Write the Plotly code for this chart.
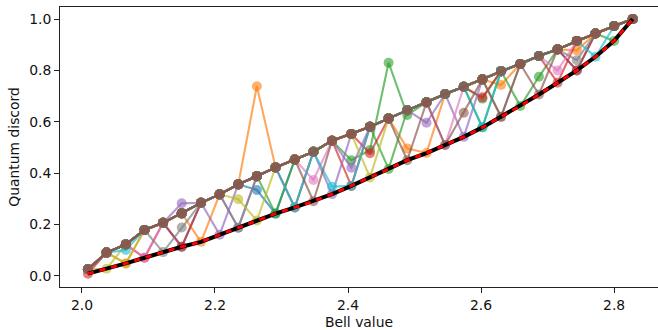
import plotly.graph_objects as go

# ---------------- data ----------------
bell_value = [2.009, 2.037, 2.066, 2.094, 2.122, 2.150, 2.179, 2.207, 2.235, 2.263,
              2.291, 2.320, 2.348, 2.376, 2.405, 2.433, 2.461, 2.489, 2.518, 2.546,
              2.574, 2.602, 2.630, 2.659, 2.687, 2.715, 2.744, 2.772, 2.800, 2.828]

lower_discord = [0.008, 0.027, 0.048, 0.070, 0.092, 0.113, 0.132, 0.160, 0.187, 0.215,
                 0.242, 0.266, 0.290, 0.318, 0.350, 0.383, 0.416, 0.450, 0.478, 0.509,
                 0.541, 0.578, 0.619, 0.661, 0.706, 0.752, 0.800, 0.853, 0.915, 1.000]

upper_discord = [0.025, 0.090, 0.122, 0.178, 0.206, 0.243, 0.284, 0.317, 0.356, 0.388,
                 0.422, 0.453, 0.483, 0.526, 0.552, 0.580, 0.613, 0.645, 0.676, 0.708,
                 0.736, 0.765, 0.797, 0.825, 0.856, 0.882, 0.915, 0.944, 0.973, 1.000]

# each sampled series: colour, indices where it sits on the lower curve,
# and points that lie between / above the two curves
series_colour = ["blue", "blue", "orange", "orange", "orange", "green", "green", "green",
                 "green", "green", "red", "red", "red", "purple", "purple", "purple",
                 "pink", "grey", "grey", "olive", "olive", "cyan", "cyan",
                 "brown", "brown", "brown"]
series_low_idx = [[10], [5, 26], [6], [18], [2, 11], [10], [16], [21], [23, 28], [],
                  [0, 14], [3, 25], [5, 26], [7, 20], [8, 13], [11],
                  [3, 19], [4], [8, 22], [1, 9], [2, 15], [11, 27], [14, 21],
                  [12], [17, 22], [19, 24]]
series_mid_pts = [{9: 0.334}, {}, {9: 0.738}, {17: 0.496}, {22: 0.743, 26: 0.878},
                  {}, {}, {}, {24: 0.775},
                  {14: 0.450, 15: 0.490, 16: 0.830, 17: 0.626, 21: 0.690},
                  {}, {}, {15: 0.477, 21: 0.695}, {}, {5: 0.282}, {14: 0.421, 18: 0.596},
                  {12: 0.373, 25: 0.800}, {5: 0.188}, {26: 0.840}, {8: 0.298}, {}, {2: 0.100},
                  {13: 0.347}, {}, {}, {20: 0.635}]

palette = {"blue": (31, 119, 180), "orange": (255, 127, 14), "green": (44, 160, 44),
           "red": (214, 39, 40), "purple": (148, 103, 189), "brown": (140, 86, 75),
           "pink": (227, 119, 194), "grey": (127, 127, 127), "olive": (188, 189, 34),
           "cyan": (23, 190, 207)}

fig = go.Figure()

for col, lows, mids in zip(series_colour, series_low_idx, series_mid_pts):
    y = [lower_discord[i] if i in lows else upper_discord[i] for i in range(len(bell_value))]
    for i, v in mids.items():
        y[i] = v
    r, g, b = palette[col]
    fig.add_trace(go.Scatter(
        x=bell_value, y=y, mode="lines+markers",
        line=dict(color=f"rgba({r},{g},{b},0.68)", width=2.1),
        marker=dict(color=f"rgba({r},{g},{b},0.6)", size=10, line=dict(width=0)),
        showlegend=False, hoverinfo="skip"))

fig.add_trace(go.Scatter(x=bell_value, y=lower_discord, mode="lines",
                         line=dict(color="black", width=4), showlegend=False))
fig.add_trace(go.Scatter(x=bell_value, y=lower_discord, mode="lines",
                         line=dict(color="#ff0000", width=3, dash="6px,6px"), showlegend=False))

font = dict(family="DejaVu Sans", size=13.9, color="#111")
axis_common = dict(showgrid=False, zeroline=False, showline=True, linecolor="#222",
                   linewidth=1.1, ticks="outside", ticklen=4.9, tickwidth=1.1,
                   tickcolor="#222", tickfont=font)

fig.update_layout(
    width=658, height=330,
    margin=dict(l=60, r=0, t=7, b=43),
    plot_bgcolor="white", paper_bgcolor="white",
    font=font,
    xaxis=dict(range=[1.967, 2.866], tickvals=[2.0, 2.2, 2.4, 2.6, 2.8],
               ticktext=["2.0", "2.2", "2.4", "2.6", "2.8"], mirror=True,
               title=dict(text="Bell value", font=font, standoff=5), **axis_common),
    yaxis=dict(range=[-0.044, 1.047], tickvals=[0.0, 0.2, 0.4, 0.6, 0.8, 1.0],
               ticktext=["0.0", "0.2", "0.4", "0.6", "0.8", "1.0"], mirror=False,
               title=dict(text="Quantum discord", font=font, standoff=6), **axis_common),
)

fig.write_html("out.html")
